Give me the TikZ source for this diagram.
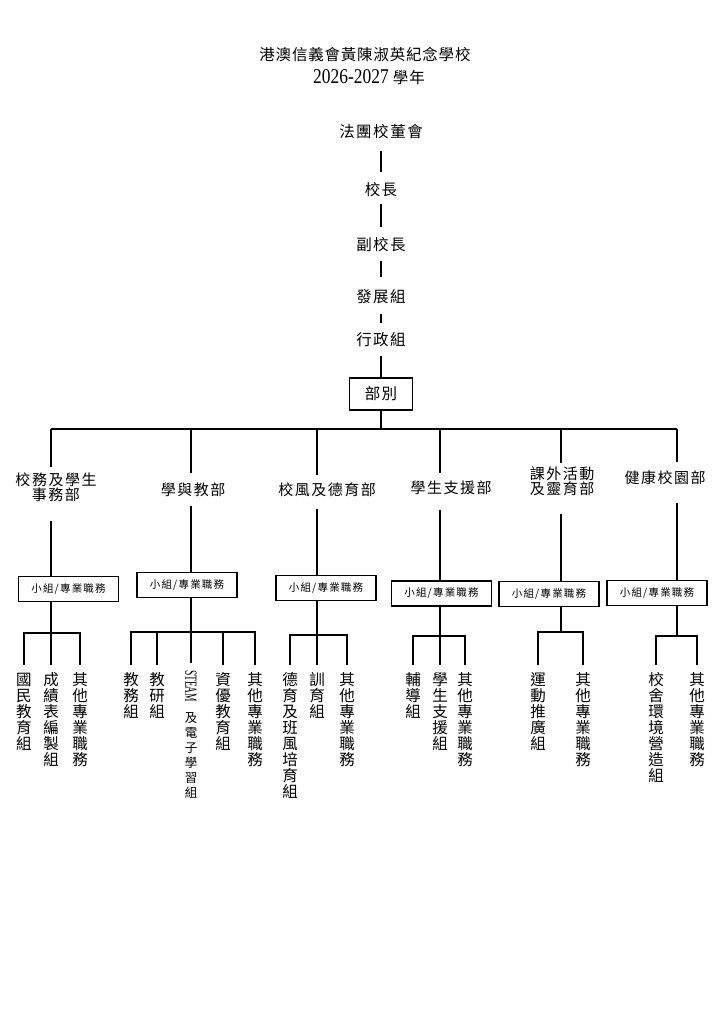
\documentclass[tikz,border=0pt]{standalone}
\usepackage{fontspec}
\setmainfont{Noto Sans CJK TC}
\newfontfamily\tms{Liberation Serif}
\usepackage{graphicx}
\newdimen\lspk
\def\lsp#1#2{{\lspk=#1\relax\lspA#2\relax}}
\def\lspA#1{#1\lspB}
\def\lspB#1{\ifx#1\relax\else\kern\lspk #1\expandafter\lspB\fi}
\def\vtx#1{\vtop{\baselineskip=16pt\lineskiplimit=-100pt\lineskip=0pt\vtxA#1\relax}}
\def\vtxA#1{\ifx#1\relax\else\hbox to 16pt{\hss#1\hss}\expandafter\vtxA\fi}
\def\twoln#1#2{\vtop{\baselineskip=15pt\lineskiplimit=-100pt\lineskip=0pt\halign{\hfil##\hfil\cr#1\cr#2\cr}}}
\begin{document}
\begin{tikzpicture}[x=1pt,y=-1pt,
  ln/.style={line width=1.3pt},
  lbl/.style={inner sep=0pt, anchor=base, font=\fontsize{15.5}{16}\selectfont},
  dept/.style={inner sep=0pt, anchor=base, font=\fontsize{15}{15}\selectfont},
  sbox/.style={draw, line width=1.3pt, inner sep=0pt, minimum width=100pt, minimum height=25pt, font=\fontsize{10.5}{12}\selectfont},
  topbox/.style={draw, line width=1.3pt, inner sep=0pt, minimum width=63pt, minimum height=32pt, font=\fontsize{15.5}{16}\selectfont},
  leaf/.style={inner sep=0pt, anchor=base, text height=20pt, font=\fontsize{15.5}{16}\selectfont}]
\fill[white] (0,0) rectangle (724,1024);
\useasboundingbox (0,0) rectangle (724,1024);

% title
\node[lbl] (title1) at (365,60.5) {\lsp{0.8pt}{港澳信義會黃陳淑英紀念學校}};
\node[lbl] (title2) at (369,83.5) {\scalebox{0.83}[1]{\tms\fontsize{21}{21}\selectfont 2026-2027}\hspace{4pt}\lsp{1pt}{學年}};

% top chain
\node[lbl, text height=12pt, text depth=13pt] (n0) at (381,137.5) {\lsp{1.5pt}{法團校董會}};
\node[lbl, text height=23pt, text depth=8pt] (n1) at (381,195.5) {\lsp{1.5pt}{校長}};
\node[lbl, text height=23pt, text depth=10pt] (n2) at (381,250.5) {\lsp{1.5pt}{副校長}};
\node[lbl, text height=25pt, text depth=11pt] (n3) at (381,302.5) {\lsp{1.5pt}{發展組}};
\node[lbl, text height=22pt, text depth=10pt] (n4) at (381,345.5) {\lsp{1.5pt}{行政組}};
\node[topbox] (n5) at (381,394) {\lsp{1.5pt}{部別}};
\draw[ln] (n0.south) -- (n1.north);
\draw[ln] (n1.south) -- (n2.north);
\draw[ln] (n2.south) -- (n3.north);
\draw[ln] (n3.south) -- (n4.north);
\draw[ln] (n4.south) -- (n5.north);

% bus
\coordinate (b1) at (51,429);
\coordinate (b2) at (191,429);
\coordinate (b3) at (317,429);
\coordinate (b4) at (440,429);
\coordinate (b5) at (561,429);
\coordinate (b6) at (677,429);
\draw[ln] (n5.south) -- (n5.south |- b1);
\draw[ln] (b1) -- (b6);

% departments
\node[dept, text height=18pt, text depth=35pt] (d1) at (56,485.5) {\twoln{\lsp{1.5pt}{校務及學生}}{\lsp{1.5pt}{事務部}}};
\node[dept, text height=22pt, text depth=10pt] (d2) at (193,495.5) {\lsp{1.5pt}{學與教部}};
\node[dept, text height=20pt, text depth=13pt] (d3) at (327,495.5) {\lsp{1.5pt}{校風及德育部}};
\node[dept, text height=20pt, text depth=16pt] (d4) at (451,493.5) {\lsp{1.5pt}{學生支援部}};
\node[dept, text height=16pt, text depth=34pt] (d5) at (562,479.5) {\twoln{\lsp{1.5pt}{課外活動}}{\lsp{1.5pt}{及靈育部}}};
\node[dept, text height=21pt, text depth=19pt] (d6) at (665,483.5) {\lsp{1.5pt}{健康校園部}};

% group boxes
\node[sbox] (s1) at (68.5,589) {\lsp{1.2pt}{小組/專業職務}};
\node[sbox] (s2) at (187,585) {\lsp{1.2pt}{小組/專業職務}};
\node[sbox] (s3) at (326,588) {\lsp{1.2pt}{小組/專業職務}};
\node[sbox] (s4) at (441.5,593.5) {\lsp{1.2pt}{小組/專業職務}};
\node[sbox] (s5) at (549,594) {\lsp{1.2pt}{小組/專業職務}};
\node[sbox] (s6) at (657,593) {\lsp{1.2pt}{小組/專業職務}};

\foreach \i in {1,...,6}{
  \draw[ln] (b\i) -- (b\i |- d\i.north);
  \draw[ln] (b\i |- d\i.south) -- (b\i |- s\i.north);
}

% leaves
\node[leaf] (L11) at (24,685) {\vtx{國民教育組}};
\node[leaf] (L12) at (51,685) {\vtx{成績表編製組}};
\node[leaf] (L13) at (80,685) {\vtx{其他專業職務}};

\node[leaf] (L21) at (131,685) {\vtx{教務組}};
\node[leaf] (L22) at (157,685) {\vtx{教研組}};
\node[leaf, text height=7pt, font=\fontsize{12.5}{15}\selectfont] (L23) at (191,670) {\vtop{\baselineskip=15pt\lineskiplimit=-100pt\lineskip=0pt
  \hbox to 16pt{\hss\rotatebox{-90}{\scalebox{0.56}[1]{\tms\fontsize{17}{17}\selectfont STEAM}}\hss}\nointerlineskip\vskip10pt
  \vtxA 及電子學習組\relax}};
\node[leaf] (L24) at (223,685) {\vtx{資優教育組}};
\node[leaf] (L25) at (255,685) {\vtx{其他專業職務}};

\node[leaf] (L31) at (290,685) {\vtx{德育及班風培育組}};
\node[leaf] (L32) at (317,685) {\vtx{訓育組}};
\node[leaf] (L33) at (347,685) {\vtx{其他專業職務}};

\node[leaf] (L41) at (413,685) {\vtx{輔導組}};
\node[leaf] (L42) at (440,685) {\vtx{學生支援組}};
\node[leaf] (L43) at (465,685) {\vtx{其他專業職務}};

\node[leaf] (L51) at (538,685) {\vtx{運動推廣組}};
\node[leaf] (L52) at (583,685) {\vtx{其他專業職務}};

\node[leaf] (L61) at (656,685) {\vtx{校舍環境營造組}};
\node[leaf] (L62) at (697,685) {\vtx{其他專業職務}};

% sub-buses
\coordinate (j1) at (51,633);
\coordinate (j2) at (191,632);
\coordinate (j3) at (317,635);
\coordinate (j4) at (440,636);
\coordinate (j5) at (561,632);
\coordinate (j6) at (677,636);

\draw[ln] (b1 |- s1.south) -- (L12.north);
\draw[ln] (L11.north) |- (j1) -| (L13.north);

\draw[ln] (b2 |- s2.south) -- (L23.north);
\draw[ln] (L21.north) |- (j2) -| (L25.north);
\draw[ln] (L22.north) -- (L22.north |- j2);
\draw[ln] (L24.north) -- (L24.north |- j2);

\draw[ln] (b3 |- s3.south) -- (L32.north);
\draw[ln] (L31.north) |- (j3) -| (L33.north);

\draw[ln] (b4 |- s4.south) -- (L42.north);
\draw[ln] (L41.north) |- (j4) -| (L43.north);

\draw[ln] (b5 |- s5.south) -- (j5);
\draw[ln] (L51.north) |- (j5) -| (L52.north);

\draw[ln] (b6 |- s6.south) -- (j6);
\draw[ln] (L61.north) |- (j6) -| (L62.north);
\end{tikzpicture}
\end{document}
